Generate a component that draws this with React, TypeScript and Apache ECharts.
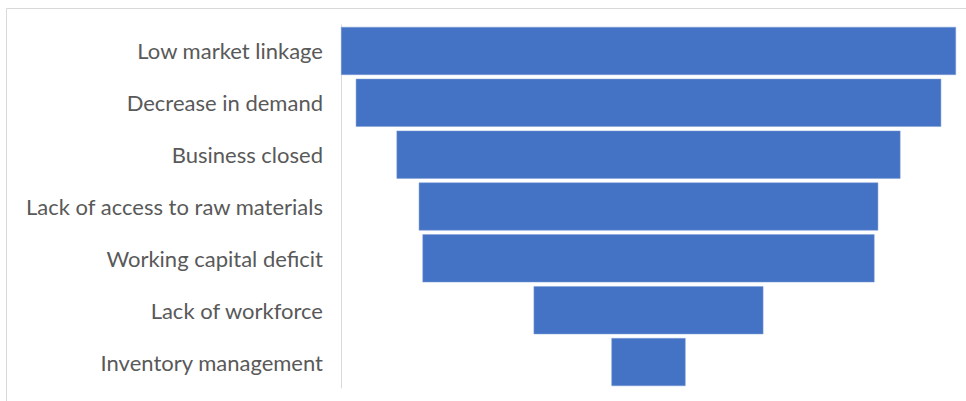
import React, { useEffect, useRef } from "react";
import * as echarts from "echarts";

const categories = [
  "Low market linkage",
  "Decrease in demand",
  "Business closed",
  "Lack of access to raw materials",
  "Working capital deficit",
  "Lack of workforce",
  "Inventory management",
];
const values = [83, 79, 68, 62, 61, 31, 10];

export default function App() {
  const ref = useRef<HTMLDivElement>(null);
  useEffect(() => {
    if (!ref.current) return;
    const chart = echarts.init(ref.current, undefined, { renderer: "svg" });
    const maxV = Math.max(...values);
    const offsets = values.map((v) => (maxV - v) / 2);
    chart.setOption({
      animation: false,
      backgroundColor: "#ffffff",
      grid: { left: 341, right: 10, top: 25, bottom: 13, containLabel: false },
      xAxis: {
        type: "value",
        min: 0,
        max: maxV,
        show: false,
      },
      yAxis: {
        type: "category",
        data: categories,
        inverse: true,
        axisLine: { show: true, lineStyle: { color: "#d9d9d9", width: 1 } },
        axisTick: { show: false },
        axisLabel: {
          color: "#595959",
          fontFamily: "Lato",
          fontSize: 22,
          margin: 18,
        },
      },
      graphic: [
        {
          type: "rect",
          shape: { x: 6.5, y: 8.5, width: 1200, height: 1200 },
          style: { fill: "none", stroke: "#d9d9d9", lineWidth: 1 },
          silent: true,
        },
      ],
      series: [
        {
          type: "bar",
          stack: "f",
          data: offsets,
          itemStyle: { color: "transparent" },
          barWidth: 48,
          silent: true,
        },
        {
          type: "bar",
          stack: "f",
          data: values,
          barWidth: 48,
          itemStyle: { color: "#4472c4", borderColor: "#7f9fd8", borderWidth: 0.5 },
        },
      ],
    });
    return () => chart.dispose();
  }, []);
  return (
    <div
      ref={ref}
      style={{ position: "absolute", left: 0, top: 0, width: 966, height: 401 }}
    />
  );
}
